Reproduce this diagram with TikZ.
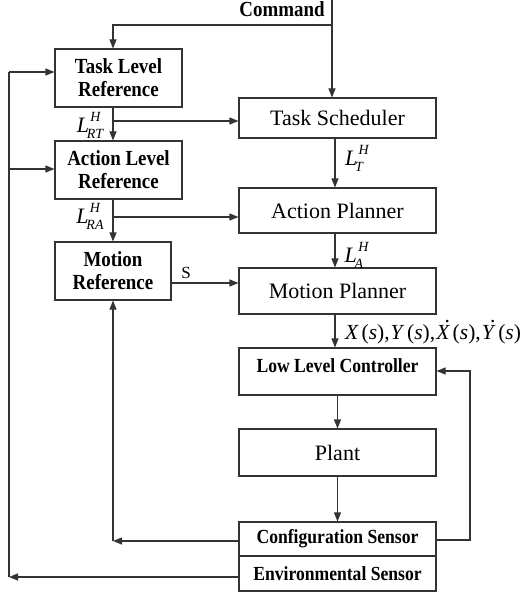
\documentclass[tikz,border=0pt]{standalone}
\usepackage{fontspec}
\setmainfont{Liberation Serif}
\newfontfamily\condbf{Liberation Serif Bold}[FakeStretch=0.88]
\usetikzlibrary{arrows.meta,calc}
\newcommand\LHlab[1]{\textit{L}\kern-0.1em\makebox[0pt][l]{\kern0.16em\raisebox{0.5em}{\fontsize{14}{14}\selectfont\itshape H}}\raisebox{-0.28em}{\fontsize{14}{14}\selectfont\itshape #1}}
\newcommand\dotit[1]{\makebox[0pt][l]{\kern0.38em\raisebox{0.78em}{\upshape.}}\textit{#1}}
\begin{document}
\begin{tikzpicture}[x=1pt,y=-1pt,
  line/.style={draw=black!80, line width=1.1pt},
  arr/.style={line, -{Triangle[length=9pt,width=7pt]}},
  box/.style={draw=black!80, line width=1.1pt, inner sep=0pt, align=center},
  reg/.style={font=\fontsize{22}{26}\selectfont},
  bld/.style={font=\fontsize{21.5}{23}\condbf},
  sbld/.style={font=\fontsize{20}{22}\condbf},
  mlab/.style={font=\fontsize{22}{24}\selectfont, inner sep=0pt}]
\useasboundingbox (0,0) rectangle (523,596);
% boxes
\node[box,bld,minimum width=127pt,minimum height=58pt] (tlr) at (118.5,78) {Task Level\\Reference};
\node[box,bld,minimum width=127pt,minimum height=58pt] (alr) at (118.5,170) {Action Level\\Reference};
\node[box,bld,minimum width=116pt,minimum height=58pt] (mr) at (113,271) {Motion\\Reference};
\node[box,reg,minimum width=197pt,minimum height=40pt] (ts) at (337.5,118) {Task Scheduler};
\node[box,reg,minimum width=197pt,minimum height=45pt] (ap) at (337.5,210.5) {Action Planner};
\node[box,reg,minimum width=197pt,minimum height=46pt] (mp) at (337.5,291) {Motion Planner};
\node[box,minimum width=197pt,minimum height=47pt] (llc) at (337.5,371.5) {};
\node[sbld] (llct) at (337.5,366) {Low Level Controller};
\node[box,reg,minimum width=197pt,minimum height=47pt] (plant) at (337.5,452.5) {Plant};
\node[box,sbld,minimum width=197pt,minimum height=34pt] (cs) at (337.5,539) {Configuration Sensor};
\node[box,sbld,minimum width=197pt,minimum height=35pt] (es) at (337.5,573.5) {Environmental Sensor};
% texts
\node[bld] (cmd) at (282,9) {Command};
\node[font=\fontsize{17}{18}\selectfont] (slab) at (186,273) {S};
\node[mlab] (lrt) at (90,125) {\LHlab{RT}};
\node[mlab] (lra) at (90,216) {\LHlab{RA}};
\node[mlab] (lt) at (354,158) {\LHlab{T}};
\node[mlab] (la) at (354,255) {\LHlab{A}};
\node[mlab,anchor=west,font=\fontsize{21.5}{24}\selectfont] (xy) at (345,332) {\textit{X}\kern0.12em(\textit{s}),\kern0.05em\textit{Y}\kern0.12em(\textit{s}),\kern0.05em\dotit{X}\kern0.12em(\textit{s}),\kern0.05em\dotit{Y}\kern0.12em(\textit{s})};
% coordinates
\coordinate (xa) at (113,0);
\coordinate (xr) at (335,0);
\coordinate (cmdtop) at (332,0);
\coordinate (cj) at (332,25);
\coordinate (b1) at (113,121);
\coordinate (b2) at (113,217);
\coordinate (b3) at (171,283);
\coordinate (cse) at (436,540);
\coordinate (r1) at (470,540);
\coordinate (r2) at (470,371);
\coordinate (csw) at (239,541);
\coordinate (c1) at (113,541);
\coordinate (esw) at (239,577);
\coordinate (e1) at (9,577);
\coordinate (e2) at (9,72);
\coordinate (e3) at (9,169);
% connectors
\draw[arr] (cmdtop) -- (cmdtop |- ts.north);
\draw[arr] (cj) -| (tlr.north -| xa);
\draw[arr] (tlr.south -| xa) -- (alr.north -| xa);
\draw[arr] (b1) -- (b1 -| ts.west);
\draw[arr] (alr.south -| xa) -- (mr.north -| xa);
\draw[arr] (b2) -- (b2 -| ap.west);
\draw[arr] (b3) -- (b3 -| mp.west);
\draw[arr] (ts.south -| xr) -- (ap.north -| xr);
\draw[arr] (ap.south -| xr) -- (mp.north -| xr);
\draw[arr] (mp.south -| xr) -- (llc.north -| xr);
\draw[arr] (llc.south) -- (plant.north);
\draw[arr] (plant.south) -- (cs.north);
\draw[arr] (cse) -- (r1) -- (r2) -- (r2 -| llc.east);
\draw[arr] (csw) -- (c1);
\draw[arr] (c1) -- (mr.south -| c1);
\draw[arr] (esw) -- (e1);
\draw[line] (e1) -- (e2);
\draw[arr] (e2) -- (e2 -| tlr.west);
\draw[arr] (e3) -- (e3 -| alr.west);
\end{tikzpicture}
\end{document}
